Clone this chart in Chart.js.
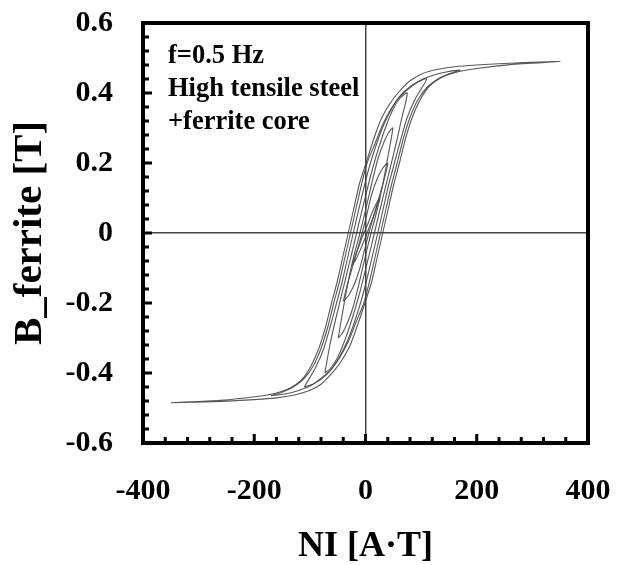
<!DOCTYPE html>
<html>
<head>
<meta charset="utf-8">
<script src="https://cdn.jsdelivr.net/npm/chart.js@4.4.1/dist/chart.umd.min.js"></script>
<style>
  html, body { margin: 0; padding: 0; background: #fff; }
  #wrap { width: 625px; height: 565px; }
</style>
</head>
<body>
<div id="wrap"><canvas id="chart"></canvas></div>
<script>
// B-H loops, NI in A·T, B in T (ascending branch then descending branch)
const loop1NI = [-24, -17, -9, -2, 3, 10, 18, 26, 19, 11, 4, -3, -10, -17, -24];
const loop1B  = [-0.092, -0.075, -0.047, -0.02, 0, 0.03, 0.063, 0.10, 0.083, 0.055, 0.025, 0, -0.03, -0.06, -0.092];

const loop2NI = [-40, -31, -21, -11, -2, 6, 15, 24, 33, 40, 31, 21, 11, 2, -6, -15, -24, -33, -40];
const loop2B  = [-0.195, -0.18, -0.15, -0.105, -0.05, 0, 0.05, 0.1, 0.15, 0.2, 0.185, 0.155, 0.11, 0.05, 0, -0.05, -0.1, -0.15, -0.195];

const loop3NI = [-49, -41, -32, -22, -11, 0, 10, 20, 30, 41, 49, 41, 32, 22, 11, 0, -10, -20, -30, -41, -49];
const loop3B  = [-0.30, -0.285, -0.255, -0.21, -0.14, -0.065, 0, 0.06, 0.13, 0.225, 0.30, 0.285, 0.255, 0.21, 0.14, 0.065, 0, -0.06, -0.13, -0.225, -0.30];

const loop4NI = [-73, -62, -50, -38, -25, -12, 0, 8, 16, 25, 35, 45, 55, 64, 75, 62, 50, 38, 25, 12, 0, -8, -16, -25, -35, -45, -55, -64, -73];
const loop4B  = [-0.40, -0.385, -0.355, -0.31, -0.25, -0.18, -0.105, -0.053, 0, 0.06, 0.125, 0.19, 0.255, 0.32, 0.40, 0.385, 0.355, 0.31, 0.25, 0.18, 0.105, 0.053, 0, -0.06, -0.125, -0.19, -0.255, -0.32, -0.40];

const loop5NI = [-110, -95, -80, -63, -48, -33, -20, -8, 2, 12, 22, 32, 42, 52, 63, 75, 90, 110,
                 95, 80, 63, 48, 33, 20, 8, -2, -12, -22, -32, -42, -52, -63, -75, -90, -110];
const loop5B  = [-0.44, -0.432, -0.418, -0.393, -0.358, -0.31, -0.255, -0.195, -0.135, -0.068, 0, 0.07, 0.14, 0.2, 0.265, 0.33, 0.385, 0.44,
                 0.432, 0.418, 0.393, 0.358, 0.31, 0.255, 0.195, 0.135, 0.068, 0, -0.07, -0.14, -0.2, -0.265, -0.33, -0.385, -0.44];

const loop6NI = [-170, -145, -120, -97, -80, -62, -46, -31, -17, -3, 7, 17, 27, 37, 47, 57, 68, 80, 94, 110, 130, 150, 170,
                 145, 120, 97, 80, 62, 46, 31, 17, 3, -7, -17, -27, -37, -47, -57, -68, -80, -94, -110, -130, -150, -170];
const loop6B  = [-0.465, -0.46, -0.45, -0.435, -0.415, -0.39, -0.355, -0.31, -0.255, -0.2, -0.14, -0.07, 0, 0.07, 0.14, 0.2, 0.27, 0.33, 0.38, 0.415, 0.44, 0.455, 0.465,
                 0.46, 0.45, 0.435, 0.415, 0.39, 0.355, 0.31, 0.255, 0.2, 0.14, 0.07, 0, -0.07, -0.14, -0.2, -0.27, -0.33, -0.38, -0.415, -0.44, -0.455, -0.465];

const loop7NI = [-350, -260, -200, -160, -128, -102, -80, -61, -44, -28, -14, -1, 11, 21, 31, 41, 51, 61, 72, 84, 98, 115, 135, 160, 200, 260, 350,
                 260, 200, 160, 128, 102, 80, 61, 44, 28, 14, 1, -11, -21, -31, -41, -51, -61, -72, -84, -98, -115, -135, -160, -200, -260, -350];
const loop7B  = [-0.485, -0.481, -0.476, -0.471, -0.463, -0.451, -0.432, -0.402, -0.367, -0.322, -0.262, -0.2, -0.14, -0.07, 0, 0.07, 0.14, 0.2, 0.27, 0.33, 0.38, 0.42, 0.443, 0.458, 0.47, 0.481, 0.49,
                 0.485, 0.48, 0.475, 0.467, 0.455, 0.435, 0.405, 0.37, 0.325, 0.265, 0.2, 0.14, 0.07, 0, -0.07, -0.14, -0.2, -0.27, -0.33, -0.38, -0.42, -0.443, -0.457, -0.468, -0.478, -0.485];

const loops = [
    [loop1NI, loop1B], [loop2NI, loop2B], [loop3NI, loop3B], [loop4NI, loop4B],
    [loop5NI, loop5B], [loop6NI, loop6B], [loop7NI, loop7B]
];

const noteLines = ['f=0.5 Hz', 'High tensile steel', '+ferrite core'];
const xTitle = 'NI [A·T]';
const yTitle = 'B_ferrite [T]';

const serif = "'Liberation Serif', 'Times New Roman', 'DejaVu Serif', serif";

// inside tick marks, thick frame and the note text
const framePlugin = {
    id: 'framePlugin',
    afterDraw(chart) {
        const { ctx, chartArea: a, scales: { x, y } } = chart;
        ctx.save();
        ctx.strokeStyle = '#000';
        ctx.lineWidth = 3;
        ctx.beginPath();
        for (let v = -400; v <= 400; v += 40) {
            const px = x.getPixelForValue(v);
            const len = (v % 200 === 0) ? 9 : 6;
            ctx.moveTo(px, a.bottom);
            ctx.lineTo(px, a.bottom - len);
        }
        for (let i = -15; i <= 15; i++) {
            const py = y.getPixelForValue(i * 0.04);
            const len = (i % 5 === 0) ? 9 : 6;
            ctx.moveTo(a.left, py);
            ctx.lineTo(a.left + len, py);
        }
        ctx.stroke();

        ctx.lineWidth = 4;
        ctx.strokeRect(a.left, a.top, a.right - a.left, a.bottom - a.top);

        ctx.fillStyle = '#000';
        ctx.font = 'bold 26.5px ' + serif;
        ctx.textBaseline = 'alphabetic';
        noteLines.forEach((t, i) => ctx.fillText(t, a.left + 25, a.top + 40 + i * 33));
        ctx.restore();
    }
};

const zeroLine = c => (c.tick && c.tick.value === 0) ? '#444' : 'rgba(0,0,0,0)';

new Chart(document.getElementById('chart'), {
    type: 'scatter',
    data: {
        datasets: loops.map(([ni, b], i) => ({
            label: 'loop ' + (i + 1),
            data: ni.map((v, k) => ({ x: v, y: b[k] })),
            showLine: true,
            fill: false,
            borderColor: 'rgba(70,70,70,0.9)',
            borderWidth: 1.1,
            pointRadius: 0,
            tension: 0.25
        }))
    },
    options: {
        responsive: true,
        maintainAspectRatio: false,
        animation: false,
        layout: { padding: { top: 23, right: 37, left: 0, bottom: 0 } },
        plugins: { legend: { display: false }, tooltip: { enabled: false } },
        scales: {
            x: {
                type: 'linear',
                min: -400, max: 400,
                afterFit: s => { s.height = 122; s.paddingLeft = 0; s.paddingRight = 0; },
                border: { display: false },
                grid: { color: zeroLine, lineWidth: 1.5, drawTicks: false },
                ticks: {
                    stepSize: 200, padding: 30, color: '#000',
                    font: { family: serif, size: 30, weight: 'bold' }
                },
                title: {
                    display: true, text: xTitle, color: '#000',
                    padding: { top: 0, bottom: -3 },
                    font: { family: serif, size: 36, weight: 'bold' }
                }
            },
            y: {
                type: 'linear',
                min: -0.6, max: 0.6,
                afterFit: s => { s.width = 143; s.paddingTop = 0; s.paddingBottom = 0; },
                border: { display: false },
                grid: { color: zeroLine, lineWidth: 1.5, drawTicks: false },
                ticks: {
                    stepSize: 0.2, padding: 30, color: '#000',
                    font: { family: serif, size: 30, weight: 'bold' },
                    callback: v => Math.abs(v) < 1e-9 ? '0' : v.toFixed(1)
                },
                title: {
                    display: true, text: yTitle, color: '#000',
                    padding: { top: 6, bottom: 0 },
                    font: { family: serif, size: 41, weight: 'bold' }
                }
            }
        }
    },
    plugins: [framePlugin]
});
</script>
</body>
</html>
